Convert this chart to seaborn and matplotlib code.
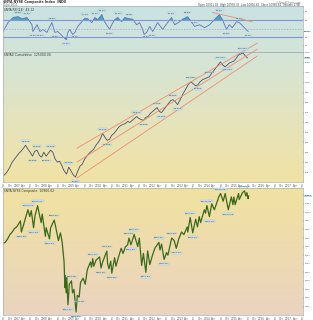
import numpy as np
import pandas as pd
import matplotlib
matplotlib.use("Agg")
import matplotlib.pyplot as plt
import matplotlib.dates as mdates
import matplotlib.ticker as mticker
from matplotlib.colors import LinearSegmentedColormap
import seaborn as sns

sns.set_style("white")
plt.rcParams["font.family"] = ["DejaVu Sans"]

# ---------------- data ----------------
osc_dates = ["2006-07-01", "2006-09-07", "2006-11-13", "2007-01-19", "2007-03-12", "2007-05-19",
             "2007-07-25", "2007-08-07", "2007-10-01", "2007-11-10", "2007-12-19", "2008-02-12",
             "2008-03-22", "2008-04-19", "2008-05-28", "2008-07-07", "2008-08-18", "2008-09-12",
             "2008-10-10", "2008-10-27", "2008-11-19", "2008-12-16", "2009-01-23", "2009-02-22",
             "2009-04-01", "2009-05-25", "2009-07-04", "2009-08-13", "2009-10-06", "2009-11-16",
             "2009-12-27", "2010-02-18", "2010-03-28", "2010-05-09", "2010-06-03", "2010-07-01",
             "2010-08-10", "2010-09-21", "2010-11-12", "2010-12-21", "2011-02-27", "2011-04-09",
             "2011-06-01", "2011-07-12", "2011-08-21", "2011-09-10", "2011-10-13", "2011-11-24",
             "2012-01-02", "2012-03-09", "2012-05-15", "2012-07-21", "2012-09-12", "2012-10-24",
             "2012-12-30", "2013-02-09", "2013-04-15", "2013-06-09", "2013-07-18", "2013-09-24",
             "2013-12-01", "2014-02-06", "2014-04-12", "2014-06-18", "2014-07-28", "2014-09-21",
             "2014-10-28", "2014-12-06", "2015-02-03", "2015-03-13", "2015-05-19", "2015-07-10"]
osc_vals = [43, 64, 76, 78, 73, 76,
            59, 43, 59, 43, 48, 41,
            55, 64, 41, 43, 36, 31,
            27, 24, 41, 48, 36, 41,
            55, 66, 74, 73, 64, 76,
            71, 83, 66, 55, 48, 59,
            71, 76, 66, 76, 73, 72,
            59, 64, 48, 36, 41, 55,
            43, 64, 48, 64, 76, 59,
            66, 72, 78, 66, 55, 59,
            52, 59, 71, 83, 71, 48,
            59, 52, 66, 64, 52, 43]
osc_upper, osc_mid, osc_lower = 70, 50, 30
osc_trend_dates = ["2014-03-15", "2015-09-01"]
osc_trend_vals = [88, 66]
osc_label_dates = ["2007-01-19", "2007-05-19", "2007-08-07", "2007-11-10", "2008-04-19", "2008-05-28",
                   "2008-10-27", "2009-02-22", "2009-07-04", "2009-11-16", "2010-02-18", "2010-06-03",
                   "2010-09-21", "2011-02-27", "2011-10-13", "2012-01-02", "2012-09-12", "2012-10-24",
                   "2013-04-15", "2013-07-18", "2014-06-18", "2014-09-21", "2015-03-13", "2015-07-10"]

ad_start = "2006-07-01"
ad_vals = [6000, 8000, 11000, 15000, 20000, 23000, 26000, 29000, 31000, 34000,
           37000, 33000, 30000, 26000, 31000, 32000, 27000, 25000, 30000, 26000,
           29000, 32000, 30000, 23000, 20000, 21000, 16000, 11000, 8000, 15000,
           11000, 7000, 5000, 11000, 16000, 18000, 23000, 26000, 29000, 31000,
           33000, 37000, 40000, 44000, 49000, 45000, 42000, 43000, 47000, 49000,
           52000, 55000, 57000, 58000, 59000, 61000, 60000, 62000, 64000, 66000,
           64000, 63000, 62000, 65000, 66000, 69000, 71000, 73000, 75000, 71000,
           70000, 73000, 76000, 79000, 82000, 83000, 81000, 78000, 82000, 87000,
           91000, 95000, 99000, 101000, 99000, 97000, 98000, 101000, 103000, 104000,
           105000, 106000, 109000, 112000, 115000, 118000, 121000, 118000, 116000, 118000,
           120000, 121000, 122000, 125000, 128000, 129000, 130000, 127000, 125000]
ad_label_up = [10, 15, 21, 29, 44, 59, 68, 75, 83, 91, 96, 106]
ad_label_dn = [13, 19, 32, 46, 62, 70, 77, 86, 99]
chan_dates = ["2009-03-20", "2015-11-10"]
chan_upper = [34000, 140000]
chan_mid = [20000, 134000]
chan_lower = [4000, 127000]

nya_dates = ["2006-07-03", "2006-08-01", "2006-09-01", "2006-10-02", "2006-11-01", "2006-12-01",
             "2007-01-02", "2007-02-20", "2007-03-05", "2007-04-02", "2007-05-01", "2007-06-01",
             "2007-06-26", "2007-07-16", "2007-08-16", "2007-09-04", "2007-10-09", "2007-11-01",
             "2007-11-26", "2007-12-10", "2008-01-22", "2008-02-01", "2008-03-17", "2008-04-01",
             "2008-05-19", "2008-06-01", "2008-07-15", "2008-08-11", "2008-09-02", "2008-09-29",
             "2008-10-10", "2008-10-13", "2008-10-27", "2008-11-04", "2008-11-20", "2008-12-08",
             "2009-01-06", "2009-01-20", "2009-02-09", "2009-03-09", "2009-03-26", "2009-04-20",
             "2009-05-08", "2009-06-12", "2009-07-10", "2009-08-07", "2009-09-18", "2009-10-02",
             "2009-10-19", "2009-11-02", "2009-12-01", "2010-01-19", "2010-02-08", "2010-03-01",
             "2010-04-26", "2010-05-07", "2010-05-25", "2010-06-18", "2010-07-02", "2010-08-09",
             "2010-08-27", "2010-10-01", "2010-11-05", "2010-11-30", "2010-12-31", "2011-01-31",
             "2011-02-18", "2011-03-16", "2011-04-29", "2011-06-16", "2011-07-07", "2011-08-08",
             "2011-08-31", "2011-10-03", "2011-10-27", "2011-11-25", "2011-12-30", "2012-02-01",
             "2012-03-26", "2012-04-10", "2012-05-01", "2012-06-04", "2012-07-06", "2012-07-25",
             "2012-09-14", "2012-10-18", "2012-11-15", "2012-12-18", "2013-01-25", "2013-02-25",
             "2013-04-11", "2013-04-18", "2013-05-21", "2013-06-24", "2013-08-02", "2013-08-27",
             "2013-09-19", "2013-10-08", "2013-11-27", "2013-12-13", "2013-12-31", "2014-02-03",
             "2014-03-07", "2014-04-11", "2014-06-09", "2014-07-03", "2014-08-07", "2014-09-03",
             "2014-10-15", "2014-11-25", "2014-12-16", "2014-12-29", "2015-01-15", "2015-03-02",
             "2015-03-11", "2015-04-24", "2015-05-21", "2015-06-08", "2015-06-22", "2015-07-08",
             "2015-07-17"]
nya_vals = [8200, 8250, 8450, 8700, 8850, 9050,
            9150, 9500, 8850, 9250, 9700, 10150,
            9750, 10100, 9100, 9800, 10387, 9900,
            9400, 9900, 8600, 9100, 8450, 9100,
            9550, 9300, 8350, 8800, 8300, 7100,
            5600, 6300, 5300, 6250, 4600, 5800,
            6000, 5300, 5500, 4182, 5150, 5050,
            5900, 6150, 5800, 6650, 7100, 6800,
            7300, 6850, 7200, 7400, 6750, 7100,
            7740, 7000, 6700, 7150, 6450, 7350,
            6850, 7400, 7900, 7600, 7980, 8100,
            8500, 8100, 8710, 8000, 8500, 6900,
            7600, 6500, 7750, 6950, 7480, 7900,
            8250, 7800, 8150, 7250, 7650, 7500,
            8500, 8350, 7900, 8450, 8850, 8700,
            9150, 8850, 9700, 8800, 9600, 9150,
            9750, 9400, 10150, 9950, 10400, 9750,
            10500, 10150, 10900, 11100, 10650, 11100,
            10150, 10900, 10450, 10900, 10450, 11100,
            10750, 11150, 11254, 10950, 11150, 10800,
            10960]
nya_label_up = ["2007-06-01", "2007-10-09", "2008-05-19", "2009-01-06", "2009-10-19", "2010-04-26",
                "2011-02-18", "2011-04-29", "2012-03-26", "2012-09-14", "2013-05-21", "2013-12-31",
                "2014-07-03", "2015-05-21"]
nya_label_dn = ["2007-03-05", "2007-08-16", "2008-03-17", "2008-11-20", "2009-03-09", "2009-04-20",
                "2010-02-08", "2010-07-02", "2011-03-16", "2011-10-03", "2012-06-04", "2012-11-15",
                "2013-06-24", "2014-02-03", "2014-10-15"]

osc = pd.DataFrame({"date": pd.to_datetime(osc_dates), "val": osc_vals})
ad = pd.DataFrame({"date": pd.date_range(ad_start, periods=len(ad_vals), freq="MS"), "val": ad_vals})
nya = pd.DataFrame({"date": pd.to_datetime(nya_dates), "val": nya_vals})

# ---------------- layout ----------------
W, H = 313, 320
XR = 303
fig = plt.figure(figsize=(W / 100, H / 100), dpi=100)


def rect(x0, y0, x1, y1):
    return [x0 / W, 1 - y1 / H, (x1 - x0) / W, (y1 - y0) / H]


cmap = LinearSegmentedColormap.from_list(
    "bgc", [(0.0, "#cae2e2"), (0.15, "#d3e5d9"), (0.4, "#e7e3b9"),
            (0.57, "#f0e2a4"), (0.63, "#f0e1a3"), (1.0, "#ebd3c0")])
GY0, GY1 = 6, 315
TICKFS = 1.6


def panel(y0, y1):
    bg = fig.add_axes(rect(3, y0, XR, y1), zorder=0)
    t = (np.linspace(y0, y1, 200) - GY0) / (GY1 - GY0)
    bg.imshow(t[:, None], aspect="auto", cmap=cmap, vmin=0, vmax=1, extent=[0, 1, 0, 1])
    bg.axis("off")
    ax = fig.add_axes(rect(3, y0, XR, y1), zorder=1)
    ax.set_facecolor("none")
    for s in ax.spines.values():
        s.set_color("#a8b0b0")
        s.set_linewidth(0.5)
    ax.yaxis.tick_right()
    ax.tick_params(axis="y", labelsize=TICKFS, length=0.8, width=0.3, pad=0.4, colors="#555555")
    ax.tick_params(axis="x", labelsize=2.0, length=0.8, width=0.3, pad=0.3, colors="#555555")
    return ax


ax1 = panel(6, 52)
ax2 = panel(52, 182)
ax3 = panel(188, 315)

xlo, xhi = pd.Timestamp("2006-07-01"), pd.Timestamp("2017-07-15")
box = dict(boxstyle="square,pad=0.15", fc="#cfe6ee", ec="#9cc3d3", lw=0.3)
vbox = dict(boxstyle="square,pad=0.15", fc="#b8dcec", ec="none")

# ---------- top oscillator ----------
sns.lineplot(data=osc, x="date", y="val", ax=ax1, color="#5b72c2", lw=0.6)
ax1.fill_between(osc["date"], osc["val"], osc_upper, where=osc["val"] > osc_upper,
                 interpolate=True, color="#3f9fb6", alpha=0.9, lw=0)
ax1.fill_between(osc["date"], osc["val"], osc_lower, where=osc["val"] < osc_lower,
                 interpolate=True, color="#3f7fb6", alpha=0.9, lw=0)
ax1.axhline(osc_upper, color="#7f97d6", lw=0.8)
ax1.axhline(osc_lower, color="#7f97d6", lw=0.8)
ax1.axhline(osc_mid, color="#9aa6c4", lw=0.5, ls=(0, (2, 2)))
sns.lineplot(x=pd.to_datetime(osc_trend_dates), y=osc_trend_vals, ax=ax1, color="#f08c70", lw=0.6)
oi = osc.set_index("date")["val"]
for d in osc_label_dates:
    v = oi[pd.Timestamp(d)]
    off = 3 if v >= 50 else -3
    ax1.annotate(f"{v:.2f}", (pd.Timestamp(d), v), xytext=(0, off), textcoords="offset points",
                 ha="center", va="center", fontsize=1.7, color="#334455", bbox=box)
ax1.set_ylim(-5, 103)
ax1.set_yticks([10, 30, 70, 90])
ax1.text(0.005, 0.97, "$NYA RSI(14)  43.12", transform=ax1.transAxes, fontsize=2.2,
         va="top", color="#333333")
ax1.annotate(f"{osc_vals[-1]:.2f}", xy=(1.0, osc_vals[-1]), xycoords=("axes fraction", "data"),
             xytext=(1.0, 0), textcoords="offset points", fontsize=TICKFS, va="center", bbox=vbox)

# ---------- middle A/D line ----------
sns.lineplot(data=ad, x="date", y="val", ax=ax2, color="#4a4f6e", lw=0.6)
cd = pd.to_datetime(chan_dates)
for cv in (chan_upper, chan_mid, chan_lower):
    ax2.plot(cd, cv, color="#f08c70", lw=0.6, clip_on=False)
for i in ad_label_up:
    ax2.annotate(f"{ad_vals[i]:,}", (ad["date"][i], ad_vals[i]), xytext=(0, 3),
                 textcoords="offset points", ha="center", va="center", fontsize=1.7,
                 color="#334455", bbox=box)
for i in ad_label_dn:
    ax2.annotate(f"{ad_vals[i]:,}", (ad["date"][i], ad_vals[i]), xytext=(0, -3),
                 textcoords="offset points", ha="center", va="center", fontsize=1.7,
                 color="#334455", bbox=box)
ax2.set_ylim(0, 131000)
ax2.set_yticks(np.arange(10000, 131000, 10000))
ax2.yaxis.set_major_formatter(mticker.FuncFormatter(lambda v, p: f"{int(v / 1000)}K"))
ax2.text(0.005, 0.995, "$NYAD Cumulative  125000.00", transform=ax2.transAxes, fontsize=2.2,
         va="top", color="#333333")
ax2.annotate(f"{ad_vals[-1] // 1000}K", xy=(1.0, ad_vals[-1]), xycoords=("axes fraction", "data"),
             xytext=(1.0, 0), textcoords="offset points", fontsize=TICKFS, va="center", bbox=vbox)

# ---------- bottom price ----------
sns.lineplot(data=nya, x="date", y="val", ax=ax3, color="#3b6a1c", lw=0.9)
ni = nya.set_index("date")["val"]
for d in nya_label_up:
    v = ni[pd.Timestamp(d)]
    ax3.annotate(f"{v:.2f}", (pd.Timestamp(d), v), xytext=(0, 3.2), textcoords="offset points",
                 ha="center", va="center", fontsize=1.7, color="#334455", bbox=box)
for d in nya_label_dn:
    v = ni[pd.Timestamp(d)]
    ax3.annotate(f"{v:.2f}", (pd.Timestamp(d), v), xytext=(0, -3.2), textcoords="offset points",
                 ha="center", va="center", fontsize=1.7, color="#334455", bbox=box)
ax3.set_ylim(4005, 11422)
ax3.set_yticks(np.arange(4500, 11422, 500))
ax3.text(0.005, 0.995, "$NYA NYSE Composite  10960.62", transform=ax3.transAxes, fontsize=2.2,
         va="top", color="#333333")
ax3.annotate(f"{nya_vals[-1]}", xy=(1.0, nya_vals[-1]), xycoords=("axes fraction", "data"),
             xytext=(1.0, 0), textcoords="offset points", fontsize=TICKFS, va="center", bbox=vbox)

# ---------- x axes ----------
def month_fmt(x, pos):
    d = mdates.num2date(x)
    return str(d.year) if d.month == 1 else d.strftime("%b")


for ax in (ax1, ax2, ax3):
    ax.set_xlim(xlo, xhi)
    ax.set_xlabel("")
    ax.set_ylabel("")
    ax.xaxis.set_major_locator(mdates.MonthLocator(bymonth=[1, 4, 7, 10]))
    ax.xaxis.set_major_formatter(mticker.FuncFormatter(month_fmt))
ax1.tick_params(axis="x", labelbottom=False, length=0)
# hide y tick labels that collide with the current-value boxes
for ax, cur in ((ax1, osc_vals[-1]), (ax2, ad_vals[-1]), (ax3, nya_vals[-1])):
    lo, hi = ax.get_ylim()
    span = hi - lo
    for tk, lab in zip(ax.get_yticks(), ax.get_yticklabels()):
        if abs(tk - cur) < span * 0.035:
            lab.set_visible(False)

# ---------- header texts ----------
fig.text(3 / W, 1 - 0.5 / H, "$NYA NYSE Composite Index  INDX", fontsize=2.3, va="top",
         color="#333333", weight="bold")
fig.text(3 / W, 1 - 3.3 / H, "10-Jul-2015", fontsize=2.0, va="top", color="#555555")
fig.text(300 / W, 1 - 0.5 / H, "\u00a9 StockCharts.com", fontsize=1.8, va="top", ha="right",
         color="#777777")
fig.text(300 / W, 1 - 3.0 / H,
         "Open 10911.03  High 10978.33  Low 10896.65  Close 10960.62  Volume 2.9B",
         fontsize=1.9, va="top", ha="right", color="#444444")

fig.savefig("out.png", dpi=100)
